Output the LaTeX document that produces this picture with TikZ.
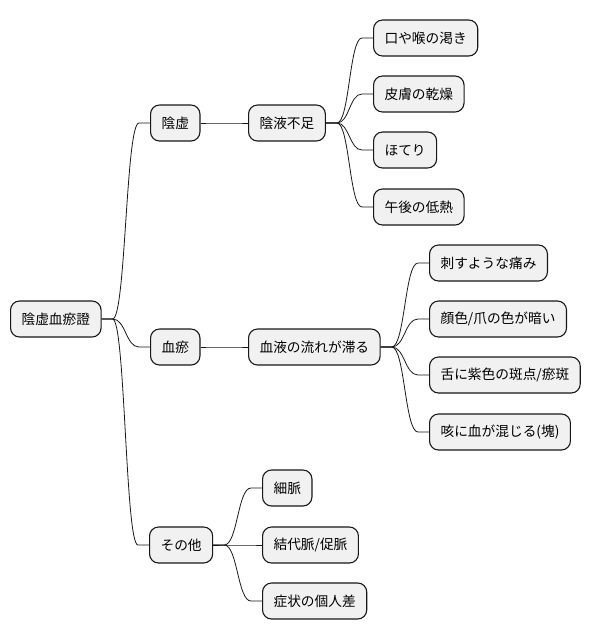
\documentclass[tikz,border=0pt]{standalone}
\usepackage{fontspec}
\setmainfont{Noto Sans CJK JP}
\usetikzlibrary{calc}
\definecolor{boxfill}{HTML}{F1F1F1}
\definecolor{boxline}{HTML}{181818}
\tikzset{
  mm/.style={draw=boxline, fill=boxfill, line width=1.1pt, rounded corners=9pt,
    anchor=west, minimum height=36pt, inner xsep=11pt, inner ysep=0pt,
    font=\fontsize{13.7}{16}\selectfont, text=black},
  conn/.style={draw=boxline, line width=0.8pt}
}
\newcommand{\conn}[2]{%
  \path (#1.east) ++(11,0) coordinate (cf);
  \path (#2.west) ++(-11,0) coordinate (cg);
  \path ($(cf)!0.5!(cg)$) coordinate (cm);
  \draw[conn] (#1.east) -- (cf) .. controls (cm |- cf) and (cm |- cg) .. (cg) -- (#2.west);
}
\begin{document}
\begin{tikzpicture}[x=1pt,y=-1pt]
\useasboundingbox (0,0) rectangle (591,640);
\node[mm] (root) at (10,319) {陰虚血瘀證};
\node[mm] (yx) at (150,123) {陰虚};
\node[mm] (xy) at (150,347) {血瘀};
\node[mm] (qt) at (149,545) {その他};
\node[mm] (yy) at (248,123) {陰液不足};
\node[mm] (xl) at (248,347) {血液の流れが滞る};
\node[mm] (a1) at (373,38) {口や喉の渇き};
\node[mm] (a2) at (373,94) {皮膚の乾燥};
\node[mm] (a3) at (373,150) {ほてり};
\node[mm] (a4) at (373,207) {午後の低熱};
\node[mm] (b1) at (429,263) {刺すような痛み};
\node[mm] (b2) at (429,319) {顔色/爪の色が暗い};
\node[mm] (b3) at (429,375) {舌に紫色の斑点/瘀斑};
\node[mm] (b4) at (429,432) {咳に血が混じる(塊)};
\node[mm] (c1) at (262,488) {細脈};
\node[mm] (c2) at (262,545) {結代脈/促脈};
\node[mm] (c3) at (262,601) {症状の個人差};
\conn{root}{yx}
\conn{root}{xy}
\conn{root}{qt}
\conn{yx}{yy}
\conn{xy}{xl}
\conn{yy}{a1}
\conn{yy}{a2}
\conn{yy}{a3}
\conn{yy}{a4}
\conn{xl}{b1}
\conn{xl}{b2}
\conn{xl}{b3}
\conn{xl}{b4}
\conn{qt}{c1}
\conn{qt}{c2}
\conn{qt}{c3}
\end{tikzpicture}
\end{document}
